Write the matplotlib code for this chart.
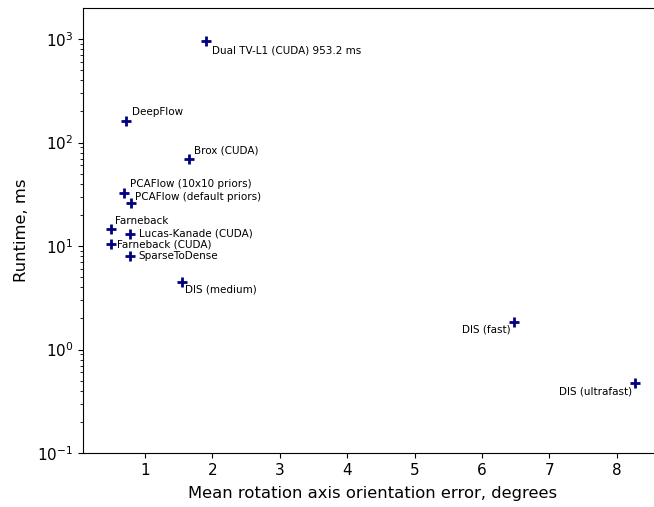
import matplotlib
matplotlib.use('Agg')
import matplotlib.pyplot as plt

names = ['Dual TV-L1 (CUDA) 953.2 ms', 'DeepFlow', 'Brox (CUDA)',
         'PCAFlow (10x10 priors)', 'PCAFlow (default priors)', 'Farneback',
         'Lucas-Kanade (CUDA)', 'Farneback (CUDA)', 'SparseToDense',
         'DIS (medium)', 'DIS (fast)', 'DIS (ultrafast)']
err = [1.91, 0.72, 1.65, 0.69, 0.79, 0.50, 0.78, 0.50, 0.78, 1.55, 6.47, 8.27]
runtime = [953.2, 161, 69, 32.5, 26, 14.6, 13.1, 10.4, 8.0, 4.5, 1.85, 0.47]
# label placement: (dx, dy) in points, ha, va
place = [(4, -3, 'left', 'top'), (4, 3, 'left', 'bottom'), (4, 3, 'left', 'bottom'),
         (4, 3, 'left', 'bottom'), (3, 1, 'left', 'bottom'), (3, 2, 'left', 'bottom'),
         (6, 0, 'left', 'center'), (4, 0, 'left', 'center'), (6, 0, 'left', 'center'),
         (2, -2, 'left', 'top'), (-2, -2, 'right', 'top'), (-2, -2, 'right', 'top')]

fig = plt.figure(figsize=(6.54, 5.07), dpi=100)
ax = fig.add_axes([83 / 654, 54 / 507, 579 / 654, 445 / 507])
ax.plot(err, runtime, '+', color='navy', markersize=7, markeredgewidth=2)
for n, x, y, (dx, dy, ha, va) in zip(names, err, runtime, place):
    ax.annotate(n, (x, y), xytext=(dx, dy), textcoords='offset points',
                ha=ha, va=va, fontsize=7.5)
ax.set_yscale('log')
ax.set_xlim(0.08, 8.67)
ax.set_ylim(0.1, 10 ** 3.3)
ax.set_xticks(range(1, 9))
ax.tick_params(labelsize=11)
ax.set_xlabel('Mean rotation axis orientation error, degrees', fontsize=11.8, labelpad=6)
ax.set_ylabel('Runtime, ms', fontsize=11.8, labelpad=6)
fig.savefig('out.png', dpi=100)
